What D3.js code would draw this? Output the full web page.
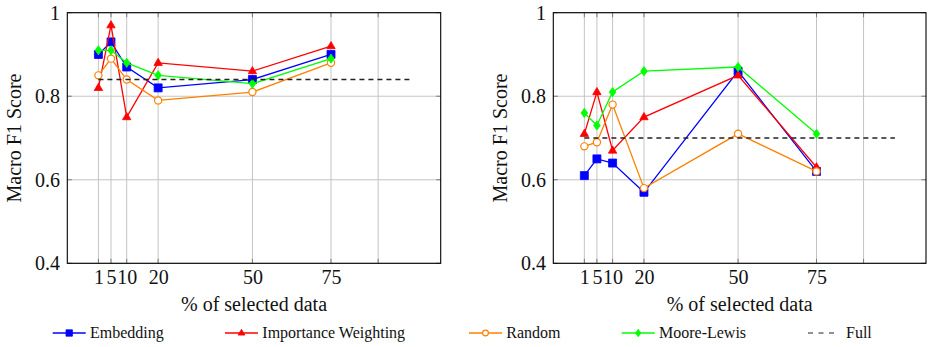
<!DOCTYPE html>
<html>
<head>
<meta charset="utf-8">
<script src="https://cdn.jsdelivr.net/npm/d3@7"></script>
</head>
<body style="margin:0;padding:0;background:#fff">
<svg id="chart" width="934" height="347" font-family="Liberation Serif, serif"></svg>
<script>
// ---- data ----
const categories = [1, 5, 10, 20, 50, 75];
const xGridTicks = [1, 5, 10, 20, 50, 75, 90];
const xTickLabels = ["1", "5", "10", "20", "50", "75", ""];
const yTicks = [0.4, 0.6, 0.8, 1.0];
const yTickLabels = ["0.4", "0.6", "0.8", "1"];
const fullX = [1, 100];

const seriesNames = ["Embedding", "Importance Weighting", "Random", "Moore-Lewis"];
const seriesColors = ["#0000ff", "#ff0000", "#ff8000", "#00ff00"];
const seriesMarks = ["square", "triangle", "circle", "diamond"];

const leftEmbedding  = [0.90, 0.93, 0.87, 0.82, 0.84, 0.90];
const leftImportance = [0.82, 0.97, 0.75, 0.88, 0.86, 0.92];
const leftRandom     = [0.85, 0.89, 0.84, 0.79, 0.81, 0.88];
const leftMooreLewis = [0.91, 0.91, 0.88, 0.85, 0.83, 0.89];
const leftFull = 0.84;

const rightEmbedding  = [0.61, 0.65, 0.64, 0.57, 0.86, 0.62];
const rightImportance = [0.71, 0.81, 0.67, 0.75, 0.85, 0.63];
const rightRandom     = [0.68, 0.69, 0.78, 0.58, 0.71, 0.62];
const rightMooreLewis = [0.76, 0.73, 0.81, 0.86, 0.87, 0.71];
const rightFull = 0.70;

const xLabel = "% of selected data";
const yLabel = "Macro F1 Score";

// ---- drawing ----
const FONT_CSS = "font-family:'Liberation Serif','Times New Roman',serif !important;";
const svg = d3.select("#chart");

function serif(sel, size) {
  sel.attr("style", FONT_CSS + `font-size:${size}px;`)
     .attr("font-family", "Liberation Serif, serif")
     .attr("fill", "#111");
  return sel;
}

function markPath(shape, s) {
  if (shape === "square") {
    const h = 4 * s;
    return `M${-h},${-h}H${h}V${h}H${-h}Z`;
  }
  if (shape === "triangle") {
    const w = 4.2 * s, t = 4.6 * s, b = 2.6 * s;
    return `M0,${-t}L${w},${b}L${-w},${b}Z`;
  }
  if (shape === "diamond") {
    const w = 3.3 * s, h = 4.6 * s;
    return `M0,${-h}L${w},0L0,${h}L${-w},0Z`;
  }
  return null;
}

function drawMarker(g, shape, color, cx, cy, s) {
  if (shape === "circle") {
    g.append("circle").attr("cx", cx).attr("cy", cy).attr("r", 3.6 * s)
      .attr("fill", "#fff").attr("stroke", color).attr("stroke-width", 1.2);
  } else {
    g.append("path").attr("d", markPath(shape, s))
      .attr("transform", `translate(${cx},${cy})`)
      .attr("fill", color).attr("stroke", color).attr("stroke-width", 0.8);
  }
}

function drawPanel(x0, x1, values, fullVal) {
  const top = 12.7, bottom = 263.3;
  const x = d3.scaleLinear().domain([-8.9, 109.9]).range([x0, x1]);
  const y = d3.scaleLinear().domain([0.4, 1.0]).range([bottom, top]);
  const g = svg.append("g");

  // grid
  g.append("g").selectAll("line").data(xGridTicks).join("line")
    .attr("x1", d => x(d)).attr("x2", d => x(d))
    .attr("y1", top).attr("y2", bottom)
    .attr("stroke", "#c4c4c4").attr("stroke-width", 1);
  g.append("g").selectAll("line").data(yTicks).join("line")
    .attr("x1", x0).attr("x2", x1)
    .attr("y1", d => y(d)).attr("y2", d => y(d))
    .attr("stroke", "#c4c4c4").attr("stroke-width", 1);

  // tick marks (inside, both sides)
  const tl = 4.5;
  const tk = g.append("g").attr("stroke", "#7a7a7a").attr("stroke-width", 1);
  xGridTicks.forEach(d => {
    tk.append("line").attr("x1", x(d)).attr("x2", x(d)).attr("y1", bottom).attr("y2", bottom - tl);
    tk.append("line").attr("x1", x(d)).attr("x2", x(d)).attr("y1", top).attr("y2", top + tl);
  });
  yTicks.forEach(d => {
    tk.append("line").attr("x1", x0).attr("x2", x0 + tl).attr("y1", y(d)).attr("y2", y(d));
    tk.append("line").attr("x1", x1).attr("x2", x1 - tl).attr("y1", y(d)).attr("y2", y(d));
  });

  // axes labels via d3 axes
  const xa = g.append("g").attr("transform", `translate(0,${bottom})`)
    .call(d3.axisBottom(x).tickValues(xGridTicks)
      .tickFormat((d, i) => xTickLabels[i]).tickSize(0).tickPadding(7));
  xa.select(".domain").remove();
  xa.attr("font-family", "Liberation Serif, serif").attr("font-size", 20);
  serif(xa.selectAll("text"), 20);

  const ya = g.append("g").attr("transform", `translate(${x0},0)`)
    .call(d3.axisLeft(y).tickValues(yTicks)
      .tickFormat((d, i) => yTickLabels[i]).tickSize(0).tickPadding(7.3));
  ya.select(".domain").remove();
  ya.attr("font-family", "Liberation Serif, serif").attr("font-size", 20);
  serif(ya.selectAll("text"), 20);

  // frame
  g.append("rect").attr("x", x0).attr("y", top).attr("width", x1 - x0).attr("height", bottom - top)
    .attr("fill", "none").attr("stroke", "#000").attr("stroke-width", 1.1);

  // series
  const line = d3.line().x(d => x(d[0])).y(d => y(d[1]));
  values.forEach((vals, si) => {
    const pts = categories.map((c, i) => [c, vals[i]]);
    const sg = g.append("g");
    sg.append("path").attr("d", line(pts)).attr("fill", "none")
      .attr("stroke", seriesColors[si]).attr("stroke-width", 1.3);
    pts.forEach(p => drawMarker(sg, seriesMarks[si], seriesColors[si], x(p[0]), y(p[1]), 1));
  });

  // full
  g.append("path").attr("d", line(fullX.map(v => [v, fullVal])))
    .attr("fill", "none").attr("stroke", "#222").attr("stroke-width", 1.4)
    .attr("stroke-dasharray", "5,4");

  // axis titles
  serif(g.append("text"), 20).attr("x", (x0 + x1) / 2).attr("y", 311)
    .attr("text-anchor", "middle").text(xLabel);
  serif(g.append("text"), 20)
    .attr("transform", `translate(${x0 - 46},${(top + bottom) / 2}) rotate(-90)`)
    .attr("text-anchor", "middle").text(yLabel);
}

drawPanel(67.3, 440.7, [leftEmbedding, leftImportance, leftRandom, leftMooreLewis], leftFull);
drawPanel(553.3, 926, [rightEmbedding, rightImportance, rightRandom, rightMooreLewis], rightFull);

// legend (layout offsets of each entry along the bottom row)
const lg = svg.append("g");
const legY = 333, legBase = 337.5;
const legendStarts = [52.7, 225, 469, 621.7, 808];
const entries = seriesNames.map((n, i) => ({name: n, color: seriesColors[i], mark: seriesMarks[i]}))
  .concat([{name: "Full", color: "#222", mark: null}]);
entries.forEach((e, i) => {
  const lx = legendStarts[i];
  if (e.mark) {
    lg.append("line").attr("x1", lx).attr("x2", lx + 33).attr("y1", legY).attr("y2", legY)
      .attr("stroke", e.color).attr("stroke-width", 1.3);
    drawMarker(lg, e.mark, e.color, lx + 16.5, legY, 0.8);
  } else {
    lg.append("line").attr("x1", lx).attr("x2", lx + 31).attr("y1", legY).attr("y2", legY)
      .attr("stroke", e.color).attr("stroke-width", 1.2).attr("stroke-dasharray", "5,5.5");
  }
  serif(lg.append("text"), 16).attr("x", lx + (e.mark ? 37.3 : 38)).attr("y", legBase)
    .text(e.name);
});
</script>
</body>
</html>
